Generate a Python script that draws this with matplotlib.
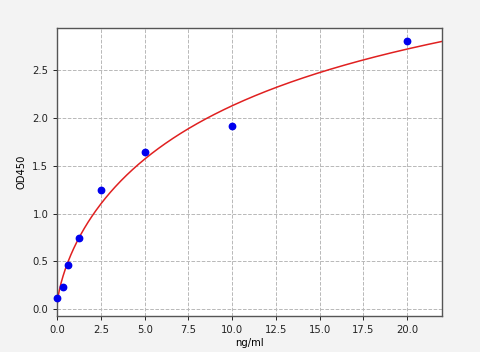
import matplotlib
matplotlib.use('Agg')
import matplotlib.pyplot as plt
import numpy as np
from matplotlib.patches import Rectangle

# standard concentrations and measured absorbance
conc = [0, 0.3125, 0.625, 1.25, 2.5, 5, 10, 20]
od = [0.121, 0.23, 0.463, 0.74, 1.25, 1.643, 1.915, 2.80]

x_label = 'ng/ml'
y_label = 'OD450'


def fit4pl(x, y):
    # four parameter logistic, grid over b and c, linear solve for a and d
    x = np.asarray(x, float)
    y = np.asarray(y, float)
    best = None
    for b in np.linspace(0.3, 2.0, 171):
        for c in np.logspace(-1, 3, 400):
            f = x**b / (x**b + c**b)
            A = np.column_stack([1 - f, f])
            coef, *_ = np.linalg.lstsq(A, y, rcond=None)
            err = np.sum((A @ coef - y)**2)
            if best is None or err < best[0]:
                best = (err, coef[0], b, c, coef[1])
    return best[1:]


a, b, c, d = fit4pl(conc, od)
xs = np.linspace(0, 22, 400)
ys = d + (a - d) / (1 + (xs / c)**b)

fig = plt.figure(figsize=(4.89, 3.52), dpi=100)
fig.patch.set_facecolor('#f3f3f3')
fig.patches.append(Rectangle((480/489, 0), 9/489, 1, transform=fig.transFigure,
                             facecolor='white', edgecolor='none', zorder=-1))
ax = fig.add_axes([57.3/489, 1-316/352, (442-57.3)/489, (316-27.7)/352])
ax.set_facecolor('white')

ax.plot(xs, ys, color='#e02020', lw=1.1, zorder=2)
ax.plot(conc, od, 'o', color='#0000ee', ms=4.6, zorder=3, clip_on=False)

ax.set_xlim(0, 22)
ax.set_ylim(-0.07, 2.94)
ax.set_xticks(np.arange(0, 22.5, 2.5))
ax.set_yticks(np.arange(0, 3.0, 0.5))
ax.grid(True, linestyle='--', color='#b8b8b8', lw=0.7)
ax.set_axisbelow(True)
for s in ax.spines.values():
    s.set_color('#555555')
    s.set_linewidth(1.0)
ax.tick_params(labelsize=7.2, colors='#222222', length=3, width=0.7)
ax.set_xlabel(x_label, fontsize=7.2, labelpad=2)
ax.set_ylabel(y_label, fontsize=7.2, labelpad=4)

plt.savefig('out.png', dpi=100, facecolor=fig.get_facecolor())
